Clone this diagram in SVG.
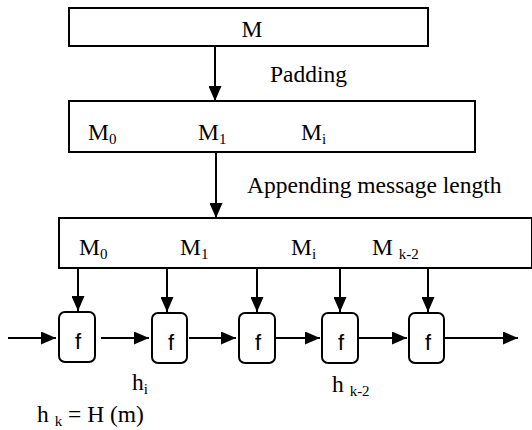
<svg xmlns="http://www.w3.org/2000/svg" width="532" height="430" viewBox="0 0 532 430">
<style>
.box{fill:#fff;stroke:#000;stroke-width:2}
.fbox{fill:#fff;stroke:#000;stroke-width:2}
.t{font-family:"Liberation Serif","Times New Roman",serif;font-size:23.5px;fill:#000}
.s{font-size:15px}
.f{font-family:"Liberation Sans",Arial,sans-serif;font-size:22px;fill:#000;text-anchor:middle}
.c{stroke:#000;stroke-width:2;fill:none;marker-end:url(#ah)}
</style>
<defs>
<marker id="ah" markerUnits="userSpaceOnUse" markerWidth="15" markerHeight="13" refX="15" refY="6.5" orient="auto">
<path d="M0,0 L15,6.5 L0,13 z" fill="#000"/>
</marker>
</defs>
<g id="connectors">
<line class="c" x1="215" y1="47" x2="215" y2="101"/>
<line class="c" x1="216" y1="152" x2="216" y2="218"/>
<line class="c" x1="78" y1="268" x2="78" y2="311"/>
<line class="c" x1="167" y1="268" x2="167" y2="312"/>
<line class="c" x1="257" y1="268" x2="257" y2="312"/>
<line class="c" x1="340" y1="268" x2="340" y2="312"/>
<line class="c" x1="428" y1="268" x2="428" y2="312"/>
<line class="c" x1="8" y1="338" x2="56" y2="338"/>
<line class="c" x1="101" y1="338" x2="149" y2="338"/>
<line class="c" x1="189" y1="338" x2="236" y2="338"/>
<line class="c" x1="276" y1="338" x2="320" y2="338"/>
<line class="c" x1="359" y1="338" x2="407" y2="338"/>
<line class="c" x1="445" y1="338" x2="518" y2="338"/>
</g>
<g id="box-m">
<rect class="box" x="69" y="8" width="359" height="38"/>
<text class="t" x="252" y="37" text-anchor="middle">M</text>
</g>
<text id="label-padding" class="t" x="270" y="82">Padding</text>
<g id="box-padded">
<rect class="box" x="69" y="101" width="406" height="51"/>
<text class="t" x="88" y="140">M<tspan class="s" dy="4">0</tspan></text>
<text class="t" x="198" y="140">M<tspan class="s" dy="4">1</tspan></text>
<text class="t" x="301" y="140">M<tspan class="s" dy="4">i</tspan></text>
</g>
<text id="label-append" class="t" x="247" y="193">Appending message length</text>
<g id="box-blocks">
<rect class="box" x="59" y="218" width="473" height="50"/>
<text class="t" x="79" y="255">M<tspan class="s" dy="4">0</tspan></text>
<text class="t" x="180" y="255">M<tspan class="s" dy="4">1</tspan></text>
<text class="t" x="291" y="255">M<tspan class="s" dy="4">i</tspan></text>
<text class="t" x="372" y="255">M <tspan class="s" dy="4">k-2</tspan></text>
</g>
<g id="f1"><rect class="fbox" x="59" y="312" width="36" height="50" rx="6"/><text class="f" x="78" y="349">f</text></g>
<g id="f2"><rect class="fbox" x="152" y="313" width="35" height="50" rx="6"/><text class="f" x="171" y="350">f</text></g>
<g id="f3"><rect class="fbox" x="239" y="313" width="36" height="50" rx="6"/><text class="f" x="258" y="350">f</text></g>
<g id="f4"><rect class="fbox" x="322" y="313" width="36" height="50" rx="6"/><text class="f" x="341" y="350">f</text></g>
<g id="f5"><rect class="fbox" x="409" y="313" width="35" height="50" rx="6"/><text class="f" x="428" y="350">f</text></g>
<text id="label-hi" class="t" x="132" y="390">h<tspan class="s" dy="4">i</tspan></text>
<text id="label-hk2" class="t" x="332" y="392">h <tspan class="s" dy="4">k-2</tspan></text>
<text id="label-hk" class="t" x="37" y="422">h <tspan class="s" dy="4">k</tspan><tspan dy="-4"> = H (m)</tspan></text>
</svg>
